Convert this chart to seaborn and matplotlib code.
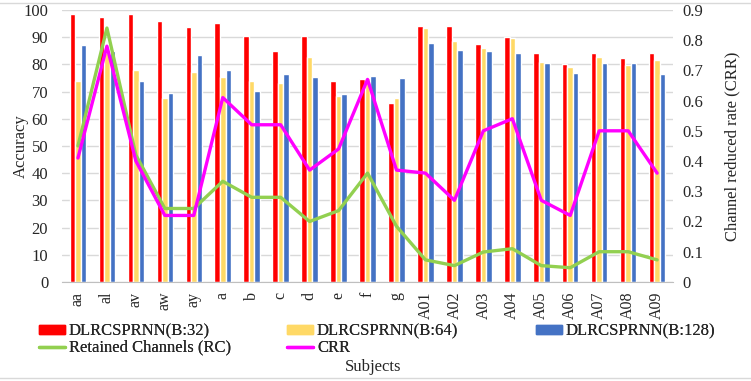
import numpy as np
import pandas as pd
import seaborn as sns
from matplotlib import pyplot as plt
from matplotlib.patches import Patch, Rectangle
from matplotlib.lines import Line2D

subjects = ["aa", "al", "av", "aw", "ay", "a", "b", "c", "d", "e", "f", "g",
            "A01", "A02", "A03", "A04", "A05", "A06", "A07", "A08", "A09"]
acc_b32 = [98.5, 97.5, 98.5, 96.0, 93.8, 95.2, 90.5, 85.0, 90.5, 74.0, 74.5, 65.8,
           94.0, 94.0, 87.5, 90.0, 84.2, 80.0, 84.0, 82.2, 84.0]
acc_b64 = [74.0, 84.0, 78.0, 67.7, 77.0, 75.5, 74.0, 73.0, 82.6, 68.5, 75.0, 67.5,
           93.2, 88.7, 86.0, 89.5, 80.8, 79.0, 82.6, 79.6, 81.5]
acc_b128 = [87.0, 85.0, 73.8, 69.3, 83.3, 78.0, 70.2, 76.5, 75.5, 69.0, 75.8, 75.0,
            88.0, 85.2, 85.0, 84.0, 80.6, 76.8, 80.6, 80.6, 76.4]
retained = [0.45, 0.84, 0.42, 0.243, 0.243, 0.333, 0.28, 0.28, 0.20, 0.236, 0.36, 0.184,
            0.073, 0.054, 0.099, 0.11, 0.054, 0.047, 0.10, 0.10, 0.073]
crr = [0.41, 0.78, 0.40, 0.22, 0.22, 0.61, 0.52, 0.52, 0.37, 0.44, 0.67, 0.37,
       0.36, 0.27, 0.50, 0.54, 0.27, 0.22, 0.50, 0.50, 0.36]

series = ["DLRCSPRNN(B:32)", "DLRCSPRNN(B:64)", "DLRCSPRNN(B:128)"]
colors = ["#FF0000", "#FFD966", "#4472C4"]
rc_color = "#92D050"
crr_color = "#FF00FF"

df = pd.DataFrame({
    "Subject": subjects * 3,
    "Accuracy": acc_b32 + acc_b64 + acc_b128,
    "Model": [series[0]] * 21 + [series[1]] * 21 + [series[2]] * 21,
})

sns.set_style("white")
plt.rcParams["font.family"] = ["Liberation Serif", "DejaVu Serif"]

fig = plt.figure(figsize=(7.51, 3.81), dpi=100)
# faint chart-area border, top and bottom only visible
fig.add_artist(Rectangle((-0.01, 3 / 381), 1.02, 1 - 6 / 381, transform=fig.transFigure,
                         fill=False, edgecolor="#D9D9D9", linewidth=1))
ax = fig.add_axes([0.0826, 0.26, 0.8136, 0.714])

sns.barplot(data=df, x="Subject", y="Accuracy", hue="Model", order=subjects,
            hue_order=series, palette=colors, width=0.57, gap=0, ax=ax,
            saturation=1, legend=False)

ax.set_ylim(0, 100)
ax.set_yticks(range(0, 101, 10))
ax.set_xlim(-0.55, 20.55)
ax.grid(axis="y", color="#D9D9D9", linewidth=1)
ax.set_axisbelow(True)
for s in ["top", "left", "right"]:
    ax.spines[s].set_visible(False)
ax.spines["bottom"].set_color("#BFBFBF")
ax.tick_params(axis="x", labelrotation=90, labelsize=11.5, length=0, pad=7)
ax.tick_params(axis="y", labelsize=12, length=0, pad=10)
ax.set_ylabel("Accuracy", fontsize=12, labelpad=-4)
ax.set_xlabel("")

ax2 = ax.twinx()
x = np.arange(len(subjects))
sns.lineplot(x=x, y=retained, color=rc_color, linewidth=2.4, ax=ax2)
sns.lineplot(x=x, y=crr, color=crr_color, linewidth=2.4, ax=ax2)
ax2.set_ylim(0, 0.9)
ax2.set_yticks(np.arange(0, 0.91, 0.1))
ax2.set_yticklabels(["0"] + [f"{v:.1f}" for v in np.arange(0.1, 0.91, 0.1)])
for s in ["top", "left", "right", "bottom"]:
    ax2.spines[s].set_visible(False)
ax2.tick_params(axis="y", labelsize=12, length=0, pad=7)
ax2.set_ylabel("Channel reduced rate (CRR)", fontsize=12, labelpad=15)

# three legend columns placed like the original
columns = [
    ([Patch(color=colors[0]), Line2D([], [], color=rc_color, lw=2.4)],
     [series[0], "Retained Channels (RC)"], 39),
    ([Patch(color=colors[1]), Line2D([], [], color=crr_color, lw=2.4)],
     [series[1], "CRR"], 287),
    ([Patch(color=colors[2])], [series[2]], 536),
]
for handles, labels, px in columns:
    leg = fig.legend(handles, labels, loc="upper left",
                     bbox_to_anchor=(px / 751, 1 - 323 / 381),
                     frameon=False, fontsize=12, handlelength=1.55,
                     handleheight=0.45, handletextpad=0.25, labelspacing=0.05,
                     borderaxespad=0, borderpad=0)
    fig.add_artist(leg)

fig.text(373 / 751, 1 - 367 / 381, "Subjects", ha="center", va="center", fontsize=12)

fig.savefig("out.png", dpi=100)
